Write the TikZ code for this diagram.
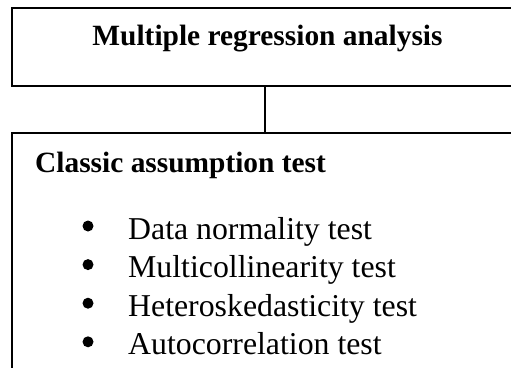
\documentclass[tikz,border=0pt]{standalone}
\usepackage{fontspec}
\setmainfont{Liberation Serif}
\begin{document}
\begin{tikzpicture}[x=1bp,y=-1bp,
  frame/.style={draw, line width=1.8bp, inner sep=0pt},
  heading/.style={font=\fontsize{29.4bp}{35bp}\selectfont\bfseries, inner sep=0pt},
  itemtext/.style={font=\fontsize{31.8bp}{38bp}\selectfont, anchor=base west, inner sep=0pt},
  dot/.style={circle, fill, inner sep=0pt, minimum size=11bp},
  link/.style={line width=1.8bp}]
\useasboundingbox (0,0) rectangle (511,367);

% the two frames run past the right (and lower) page edge
\node[frame, minimum width=510bp, minimum height=78bp] (top) at (267,47) {};
\node[frame, minimum width=510bp, minimum height=287bp] (bottom) at (267,276.5) {};
\draw[link] ([xshift=-2bp]top.south) -- ([xshift=-2bp]bottom.north);

\node[heading, anchor=base] (title) at (267.5,45) {Multiple regression analysis};
\node[heading, anchor=base west] (cat) at (35,172) {Classic assumption test};

\foreach \t [count=\i] in {Data normality test, Multicollinearity test,
    Heteroskedasticity test, Autocorrelation test}{
  \node[dot] (dot\i) at (88,{226+38.6*(\i-1)}) {};
  \node[itemtext] (item\i) at (128,{239+38.6*(\i-1)}) {\t};
}
\end{tikzpicture}
\end{document}
